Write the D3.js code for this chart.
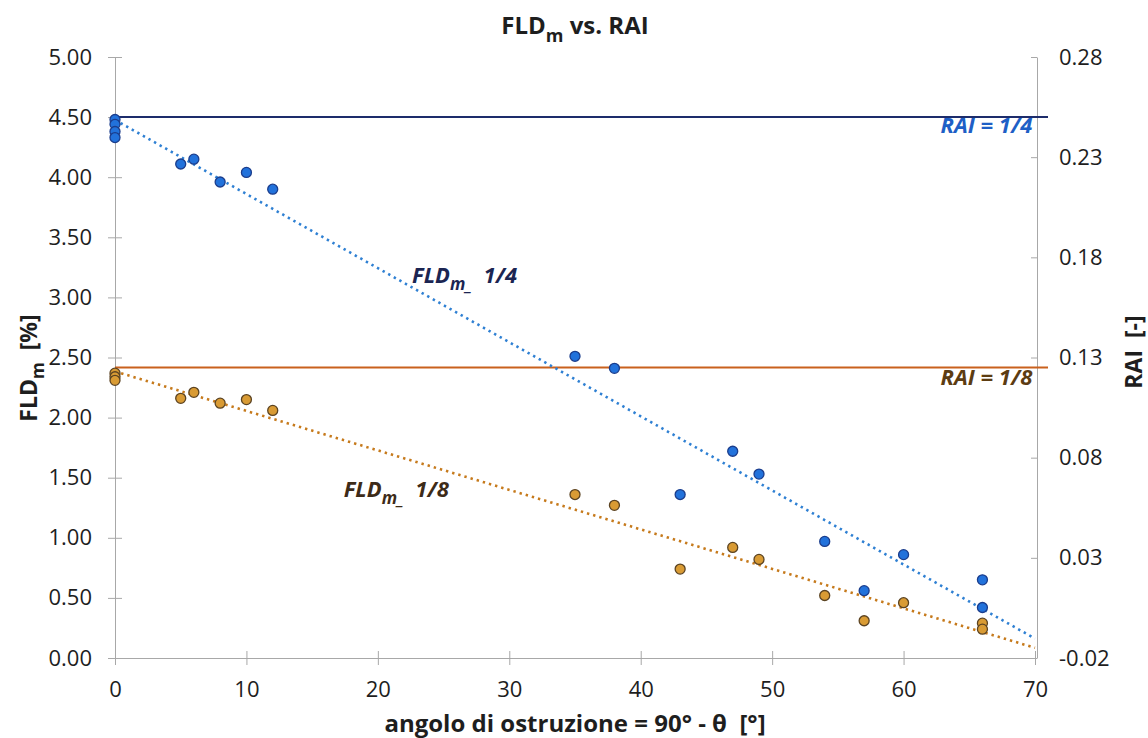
<!DOCTYPE html>
<html>
<head>
<meta charset="utf-8">
<script src="https://cdn.jsdelivr.net/npm/d3@7"></script>
<style>
  body { margin: 0; background: #fff; }
  svg { font-family: "Open Sans", "Noto Sans", sans-serif; }
  text { white-space: pre; }
</style>
</head>
<body>
<svg id="chart"></svg>
<script>
// angolo di ostruzione (x) and FLDm values for the two RAI cases
const xQuarter = [0, 0, 0, 0, 5, 6, 8, 10, 12, 35, 38, 43, 47, 49, 54, 57, 60, 66, 66];
const fldQuarter = [4.48, 4.44, 4.38, 4.33, 4.11, 4.15, 3.96, 4.04, 3.90, 2.51, 2.41, 1.36, 1.72, 1.53, 0.97, 0.56, 0.86, 0.65, 0.42];
const xEighth = [0, 0, 0, 5, 6, 8, 10, 12, 35, 38, 43, 47, 49, 54, 57, 60, 66, 66];
const fldEighth = [2.37, 2.34, 2.31, 2.16, 2.21, 2.12, 2.15, 2.06, 1.36, 1.27, 0.74, 0.92, 0.82, 0.52, 0.31, 0.46, 0.29, 0.24];

const raiLevels = [0.25, 0.125];
const raiLabels = ["RAI = 1/4", "RAI = 1/8"];

const xTicks = [0, 10, 20, 30, 40, 50, 60, 70];
const leftTicks = [0, 0.5, 1, 1.5, 2, 2.5, 3, 3.5, 4, 4.5, 5];
const rightTicks = [-0.02, 0.03, 0.08, 0.13, 0.18, 0.23, 0.28];

const W = 1148, H = 738;
const margin = {top: 57, right: 113, bottom: 80, left: 115};
const iw = W - margin.left - margin.right;
const ih = H - margin.top - margin.bottom;

const svg = d3.select('#chart').attr('width', W).attr('height', H);
const chart = svg.append('g').attr('transform', `translate(${margin.left}, ${margin.top})`);

const xscale = d3.scaleLinear().domain([0, 70]).range([0, iw]);
const yscale = d3.scaleLinear().domain([0, 5]).range([ih, 0]);
const y2scale = d3.scaleLinear().domain([-0.02, 0.28]).range([ih, 0]);

const axisColor = '#a8a8a8';
const textColor = '#1e1e1e';
const fmt2 = d => d3.format('.2f')(d).replace('\u2212', '-');

// axes
const xaxis = chart.append('g')
    .attr('transform', `translate(0, ${ih})`)
    .call(d3.axisBottom(xscale).tickValues(xTicks).tickSize(7).tickPadding(16).tickFormat(d3.format('d')));
xaxis.selectAll('line').attr('y1', -7);

const yaxis = chart.append('g')
    .call(d3.axisLeft(yscale).tickValues(leftTicks).tickSize(7).tickPadding(16).tickFormat(fmt2));
yaxis.selectAll('line').attr('x1', 7);

const y2axis = chart.append('g')
    .attr('transform', `translate(${iw + 2}, 0)`)
    .call(d3.axisRight(y2scale).tickValues(rightTicks).tickSize(0).tickPadding(22).tickFormat(fmt2));
y2axis.selectAll('.tick').append('line').attr('x1', -6).attr('x2', 0);

[xaxis, yaxis, y2axis].forEach(g => {
    g.select('.domain').attr('stroke', axisColor).attr('stroke-width', 1);
    g.selectAll('.tick line').attr('stroke', axisColor).attr('stroke-width', 1);
    g.selectAll('text').attr('fill', textColor).style('font-size', '22px').style('font-family', '"Open Sans", sans-serif');
});

// RAI reference lines (right axis)
const raiColors = ['#1d2c6b', '#c9611d'];
chart.selectAll('.rai')
    .data(raiLevels)
    .join('line')
    .attr('class', 'rai')
    .attr('x1', xscale(0))
    .attr('x2', xscale(70) + 13)
    .attr('y1', d => y2scale(d))
    .attr('y2', d => y2scale(d))
    .attr('stroke', (d, i) => raiColors[i])
    .attr('stroke-width', 2);

// linear trend lines from the points
function fit(xs, ys) {
    const mx = d3.mean(xs), my = d3.mean(ys);
    let sxy = 0, sxx = 0;
    xs.forEach((x, i) => { sxy += (x - mx) * (ys[i] - my); sxx += (x - mx) * (x - mx); });
    const b = sxy / sxx;
    return x => my + b * (x - mx);
}

const series = [
    {xs: xQuarter, ys: fldQuarter, fill: '#2272db', stroke: '#1b3d8c', trend: '#2f80d3'},
    {xs: xEighth, ys: fldEighth, fill: '#d99b34', stroke: '#5b4322', trend: '#c67a1c'}
];

series.forEach(s => {
    const f = fit(s.xs, s.ys);
    chart.append('line')
        .attr('x1', xscale(0)).attr('y1', yscale(f(0)))
        .attr('x2', xscale(70)).attr('y2', yscale(f(70)))
        .attr('stroke', s.trend)
        .attr('stroke-width', 2.6)
        .attr('stroke-dasharray', '2.4,4');
});

series.forEach(s => {
    chart.append('g').selectAll('circle')
        .data(s.xs.map((x, i) => ({x: x, y: s.ys[i]})))
        .join('circle')
        .attr('cx', d => xscale(d.x))
        .attr('cy', d => yscale(d.y))
        .attr('r', 5)
        .attr('fill', s.fill)
        .attr('stroke', s.stroke)
        .attr('stroke-width', 1.3);
});

// series labels
function fldLabel(x, y, txt, color) {
    const t = chart.append('text')
        .attr('x', xscale(x)).attr('y', yscale(y))
        .attr('fill', color)
        .style('font-size', '22px').style('font-weight', 'bold').style('font-style', 'italic');
    t.append('tspan').text('FLD');
    t.append('tspan').attr('dy', 7).style('font-size', '17px').text('m_');
    t.append('tspan').attr('dy', -7).text('  ' + txt);
}
fldLabel(22.6, 3.12, '1/4', '#1b2552');
fldLabel(17.4, 1.34, '1/8', '#3d2b18');

const raiTextColors = ['#1e5fc6', '#5c3c12'];
const raiTextY = [4.37, 2.27];
raiLabels.forEach((lab, i) => {
    chart.append('text')
        .attr('x', xscale(69.8)).attr('y', yscale(raiTextY[i]))
        .attr('text-anchor', 'end')
        .attr('fill', raiTextColors[i])
        .style('font-size', '22px').style('font-weight', 'bold').style('font-style', 'italic')
        .text(lab);
});

// title
const title = svg.append('text')
    .attr('x', 575).attr('y', 34)
    .attr('text-anchor', 'middle')
    .attr('fill', textColor)
    .style('font-size', '24px').style('font-weight', 'bold');
title.append('tspan').text('FLD');
title.append('tspan').attr('dy', 8).style('font-size', '18px').text('m');
title.append('tspan').attr('dy', -8).text(' vs. RAI');

// axis titles
svg.append('text')
    .attr('x', margin.left + iw / 2).attr('y', 732)
    .attr('text-anchor', 'middle')
    .attr('fill', textColor)
    .style('font-size', '24px').style('font-weight', 'bold')
    .text('angolo di ostruzione = 90° - θ  [°]');

const ylab = svg.append('text')
    .attr('transform', 'translate(37, 368) rotate(-90)')
    .attr('text-anchor', 'middle')
    .attr('fill', textColor)
    .style('font-size', '23px').style('font-weight', 'bold');
ylab.append('tspan').text('FLD');
ylab.append('tspan').attr('dy', 7).style('font-size', '17px').text('m');
ylab.append('tspan').attr('dy', -7).text('  [%]');

svg.append('text')
    .attr('transform', 'translate(1142, 352) rotate(-90)')
    .attr('text-anchor', 'middle')
    .attr('fill', textColor)
    .style('font-size', '23px').style('font-weight', 'bold')
    .text('RAI  [-]');
</script>
</body>
</html>
